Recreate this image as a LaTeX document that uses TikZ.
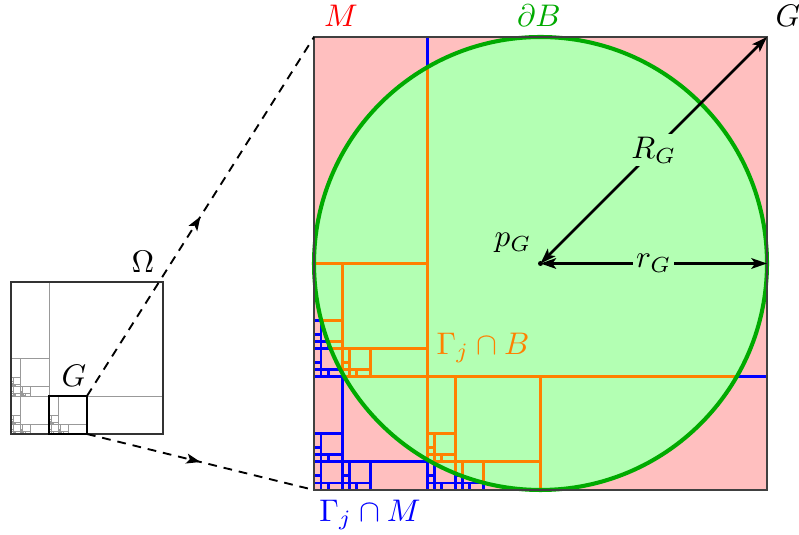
\documentclass[tikz,border=0pt]{standalone}
\usetikzlibrary{arrows.meta,decorations.markings}
\definecolor{cgreen}{RGB}{0,170,0}
\definecolor{corange}{RGB}{255,128,0}
\definecolor{cpink}{RGB}{255,191,191}
\definecolor{clgreen}{RGB}{179,255,179}
\newcommand\mkquad[1]{%
  \draw[qline] (0.25,0) -- (0.25,1) (0,0.25) -- (1,0.25) (0,0.5) -- (0.25,0.5) (0.5,0) -- (0.5,0.25);%
  \ifnum#1>0
    \begin{scope}[shift={(0,0.25)},scale=0.25]\mkquad{\the\numexpr#1-1\relax}\end{scope}%
    \begin{scope}[scale=0.25]\mkquad{\the\numexpr#1-1\relax}\end{scope}%
    \begin{scope}[shift={(0.25,0)},scale=0.25]\mkquad{\the\numexpr#1-1\relax}\end{scope}%
  \fi}
\tikzset{
  arr/.style={line width=0.8pt,{Stealth[length=5pt,width=3.4pt,inset=1.2pt]}-{Stealth[length=5pt,width=3.4pt,inset=1.2pt]}},
  lab/.style={fill=clgreen,inner sep=1pt},
  dashln/.style={line width=0.6pt,dash pattern=on 2.8pt off 2.2pt,postaction={decorate},
    decoration={markings,mark=at position 0.5 with {\arrow{Stealth[length=4.5pt,width=3.2pt,inset=1pt]}}}}
}
\begin{document}
\begin{tikzpicture}[x=0.32pt,y=-0.32pt]
\useasboundingbox (0,0) rectangle (799,535);
% big square
\coordinate (BL) at (314,490);
\coordinate (TR) at (767,37);
\coordinate (TL) at (314,37);
\coordinate (pG) at (540.5,263.5);
\coordinate (rE) at (767,263.5);
\fill[cpink] (BL) rectangle (TR);
\fill[clgreen] (pG) circle[radius=72.48pt];
\begin{scope}
  \clip (BL) rectangle (TR);
  \begin{scope}[shift={(314,490)},x=144.96pt,y=144.96pt,qline/.style={blue,line width=0.9pt,line cap=rect}]
    \mkquad{2}
  \end{scope}
\end{scope}
\begin{scope}
  \clip (pG) circle[radius=72.48pt];
  \begin{scope}[shift={(314,490)},x=144.96pt,y=144.96pt,qline/.style={corange,line width=0.9pt,line cap=rect}]
    \mkquad{2}
  \end{scope}
\end{scope}
\draw[cgreen,line width=1.3pt] (pG) circle[radius=72.48pt];
\draw[black!75,line width=0.45pt] (BL) rectangle (TR);
% radii
\fill (pG) circle[radius=0.8pt];
\draw[arr] (pG) -- node[lab]{$R_G$} (TR);
\draw[arr] (pG) -- node[lab]{$r_G$} (rE);
\node (lp) at (513,243) {$p_G$};
% labels
\node[red] (lM) at (341,16) {$M$};
\node[cgreen] (lB) at (539,16) {$\partial B$};
\node (lG) at (788,16) {$G$};
\node[corange] (lGB) at (483,348) {$\Gamma_j\cap B$};
\node[blue] (lGM) at (370,515) {$\Gamma_j\cap M$};
% small Omega
\begin{scope}[shift={(11,434)},x=48.64pt,y=48.64pt,qline/.style={black!40,line width=0.3pt}]
  \mkquad{3}
\end{scope}
\draw[black!80,line width=0.35pt] (11,282) rectangle (163,434);
\coordinate (gTR) at (87,396);
\coordinate (gBR) at (87,434);
\draw[line width=0.8pt] (49,396) rectangle (87,434);
\node (lO) at (143,262) {$\Omega$};
\node (lg) at (74,376) {$G$};
% zoom lines
\draw[dashln] (gTR) -- (TL);
\draw[dashln] (gBR) -- (BL);
\end{tikzpicture}
\end{document}
